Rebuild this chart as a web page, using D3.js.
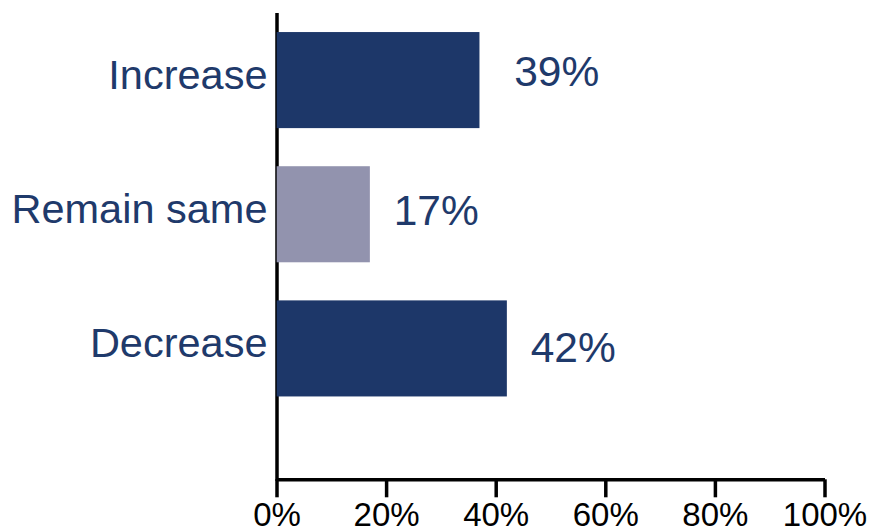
<html>
<head>
    <title>Share chart</title>
    <script src="https://cdn.jsdelivr.net/npm/d3@7"></script>
    <style>
        body{
            margin: 0;
            background: #ffffff;
        }
        text{
            font-family: "Liberation Sans", Arial, Helvetica, sans-serif;
        }
    </style>
</head>
<body>
<div id="chart"></div>

<script>

    // values
    var categories = ["Increase", "Remain same", "Decrease"];
    var barShares = [37, 17, 42];         // bar length in %
    var labelShares = [39, 17, 42];       // the printed label
    var barColors = ["#1d3769", "#9293ae", "#1d3769"];
    var tickValues = [0, 20, 40, 60, 80, 100];

    var width = 870, height = 528;
    var x0 = 276.5, x1 = 824.5;
    var axisY = 479.3;

    var svg = d3.select("#chart").append("svg")
        .attr("width", width)
        .attr("height", height);

    var x = d3.scaleLinear().domain([0, 100]).range([x0, x1]);
    var y = d3.scaleBand()
        .domain(categories)
        .range([13, 415.5])
        .paddingInner(0.284)
        .paddingOuter(0.142);

    // y axis line
    svg.append("line")
        .attr("x1", x0 + 0.5)
        .attr("x2", x0 + 0.5)
        .attr("y1", 13)
        .attr("y2", axisY + 1.5)
        .attr("stroke", "#000")
        .attr("stroke-width", 3.5);

    // x axis
    var xAxis = d3.axisBottom(x)
        .tickValues(tickValues)
        .tickFormat(function(d){ return d + "%"; })
        .tickSize(18)
        .tickSizeOuter(0);

    var gx = svg.append("g")
        .attr("transform", "translate(0," + axisY + ")")
        .call(xAxis);
    gx.select(".domain")
        .attr("stroke", "#000")
        .attr("stroke-width", 3.4);
    gx.selectAll(".tick line")
        .attr("stroke", "#000")
        .attr("stroke-width", 3.5);
    gx.selectAll(".tick text")
        .attr("y", 46.5)
        .attr("dy", 0)
        .attr("fill", "#000")
        .style("font-size", "33px")
        .style("font-family", "'Liberation Sans', Arial, sans-serif");

    // bars
    svg.selectAll("rect.bar")
        .data(categories)
        .enter().append("rect")
        .attr("class", "bar")
        .attr("x", x(0) + 0.2)
        .attr("y", function(d){ return y(d); })
        .attr("width", function(d, i){ return x(barShares[i]) - x(0); })
        .attr("height", y.bandwidth())
        .attr("fill", function(d, i){ return barColors[i]; });

    // category labels
    svg.selectAll("text.cat")
        .data(categories)
        .enter().append("text")
        .attr("class", "cat")
        .attr("x", x0 - 9)
        .attr("y", function(d){ return y(d) + y.bandwidth() / 2 + 9; })
        .attr("text-anchor", "end")
        .attr("fill", "#1f3a6b")
        .style("font-size", "41.5px")
        .text(function(d){ return d; });

    // value labels
    var valueDy = [6, 11, 13.7];
    svg.selectAll("text.val")
        .data(categories)
        .enter().append("text")
        .attr("class", "val")
        .attr("x", function(d, i){ return x(labelShares[i]) + 24; })
        .attr("y", function(d, i){ return y(d) + y.bandwidth() / 2 + valueDy[i]; })
        .attr("fill", "#1f3a6b")
        .style("font-size", "42.5px")
        .text(function(d, i){ return labelShares[i] + "%"; });

</script>
</body>
</html>
